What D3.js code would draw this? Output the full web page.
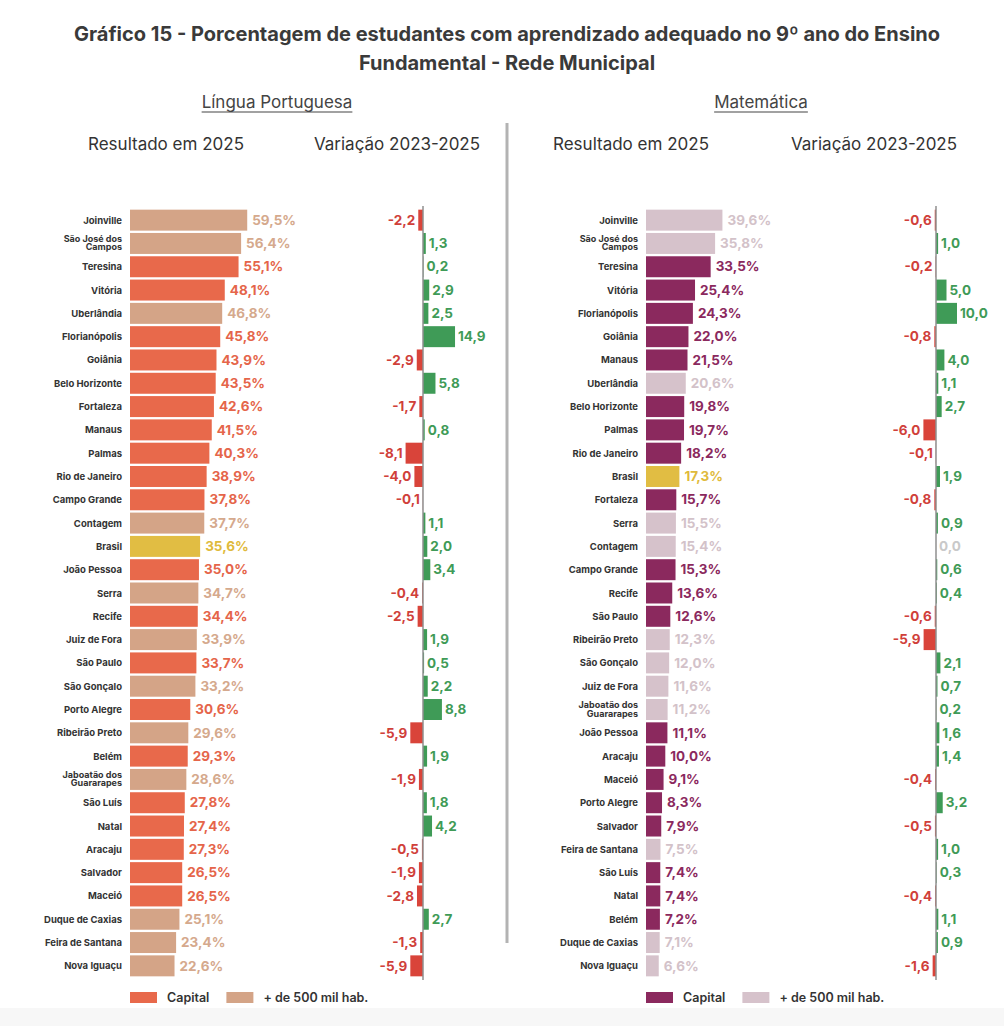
<!DOCTYPE html>
<html>
<head>
<meta charset="utf-8">
<script src="https://cdn.jsdelivr.net/npm/d3@7"></script>
<style>
  html, body { margin: 0; padding: 0; background: #fff; }
  svg { display: block; font-family: Inter, "Noto Sans", sans-serif; }
</style>
</head>
<body>
<svg id="chart" width="1004" height="1026"></svg>
<script>
// Língua Portuguesa
const lpCities = ["Joinville", "São José dos|Campos", "Teresina", "Vitória", "Uberlândia", "Florianópolis", "Goiânia",
  "Belo Horizonte", "Fortaleza", "Manaus", "Palmas", "Rio de Janeiro", "Campo Grande", "Contagem", "Brasil",
  "João Pessoa", "Serra", "Recife", "Juiz de Fora", "São Paulo", "São Gonçalo", "Porto Alegre", "Ribeirão Preto",
  "Belém", "Jaboatão dos|Guararapes", "São Luís", "Natal", "Aracaju", "Salvador", "Maceió", "Duque de Caxias",
  "Feira de Santana", "Nova Iguaçu"];
const lpValues = [59.5, 56.4, 55.1, 48.1, 46.8, 45.8, 43.9, 43.5, 42.6, 41.5, 40.3, 38.9, 37.8, 37.7, 35.6,
  35.0, 34.7, 34.4, 33.9, 33.7, 33.2, 30.6, 29.6, 29.3, 28.6, 27.8, 27.4, 27.3, 26.5, 26.5, 25.1, 23.4, 22.6];
const lpChange = [-2.2, 1.3, 0.2, 2.9, 2.5, 14.9, -2.9, 5.8, -1.7, 0.8, -8.1, -4.0, -0.1, 1.1, 2.0,
  3.4, -0.4, -2.5, 1.9, 0.5, 2.2, 8.8, -5.9, 1.9, -1.9, 1.8, 4.2, -0.5, -1.9, -2.8, 2.7, -1.3, -5.9];
// C = capital, M = + de 500 mil hab., B = Brasil
const lpGroup = ["M", "M", "C", "C", "M", "C", "C", "C", "C", "C", "C", "C", "C", "M", "B",
  "C", "M", "C", "M", "C", "M", "C", "M", "C", "M", "C", "C", "C", "C", "C", "M", "M", "M"];

// Matemática
const mtCities = ["Joinville", "São José dos|Campos", "Teresina", "Vitória", "Florianópolis", "Goiânia", "Manaus",
  "Uberlândia", "Belo Horizonte", "Palmas", "Rio de Janeiro", "Brasil", "Fortaleza", "Serra", "Contagem",
  "Campo Grande", "Recife", "São Paulo", "Ribeirão Preto", "São Gonçalo", "Juiz de Fora", "Jaboatão dos|Guararapes",
  "João Pessoa", "Aracaju", "Maceió", "Porto Alegre", "Salvador", "Feira de Santana", "São Luís", "Natal",
  "Belém", "Duque de Caxias", "Nova Iguaçu"];
const mtValues = [39.6, 35.8, 33.5, 25.4, 24.3, 22.0, 21.5, 20.6, 19.8, 19.7, 18.2, 17.3, 15.7, 15.5, 15.4,
  15.3, 13.6, 12.6, 12.3, 12.0, 11.6, 11.2, 11.1, 10.0, 9.1, 8.3, 7.9, 7.5, 7.4, 7.4, 7.2, 7.1, 6.6];
const mtChange = [-0.6, 1.0, -0.2, 5.0, 10.0, -0.8, 4.0, 1.1, 2.7, -6.0, -0.1, 1.9, -0.8, 0.9, 0.0,
  0.6, 0.4, -0.6, -5.9, 2.1, 0.7, 0.2, 1.6, 1.4, -0.4, 3.2, -0.5, 1.0, 0.3, -0.4, 1.1, 0.9, -1.6];
const mtGroup = ["M", "M", "C", "C", "C", "C", "C", "M", "C", "C", "C", "B", "C", "M", "M",
  "C", "C", "C", "M", "M", "M", "M", "C", "C", "C", "C", "C", "M", "C", "C", "C", "M", "M"];

const legendLabels = ["Capital", "+ de 500 mil hab."];

const fmt = v => v.toFixed(1).replace(".", ",");

const svg = d3.select("#chart");

// faint bottom band
svg.append("rect").attr("x", 0).attr("y", 1008).attr("width", 1004).attr("height", 18).attr("fill", "#f7f7f7");

// Title
const title = svg.append("text")
  .attr("x", 507).attr("text-anchor", "middle")
  .attr("fill", "#3a3a3a").style("font-size", "20px").style("font-weight", 700);
title.append("tspan").attr("x", 507).attr("y", 41)
  .text("Gráfico 15 - Porcentagem de estudantes com aprendizado adequado no 9º ano do Ensino");
title.append("tspan").attr("x", 507).attr("y", 70).text("Fundamental - Rede Municipal");

// separator
svg.append("line").attr("x1", 507).attr("x2", 507).attr("y1", 123).attr("y2", 943)
  .attr("stroke", "#b3b3b3").attr("stroke-width", 3);

function drawPanel(cfg) {
  const n = cfg.cities.length;
  const rows = d3.range(n);
  const g = svg.append("g");

  // Headers
  const subj = g.append("text").attr("x", cfg.subjX).attr("y", 108)
    .attr("text-anchor", "middle").attr("fill", "#444")
    .style("font-size", "17px").text(cfg.subject);
  const bb = subj.node().getBBox();
  g.append("line").attr("x1", bb.x).attr("x2", bb.x + bb.width)
    .attr("y1", 112).attr("y2", 112).attr("stroke", "#444").attr("stroke-width", 1.2);

  g.append("text").attr("x", cfg.head1X).attr("y", 150).attr("text-anchor", "middle")
    .attr("fill", "#333").style("font-size", "17px").text("Resultado em 2025");
  g.append("text").attr("x", cfg.head2X).attr("y", 150).attr("text-anchor", "middle")
    .attr("fill", "#333").style("font-size", "17px").text("Variação 2023-2025");

  const y = d3.scaleBand().domain(rows).range([208.5, 977.5])
    .paddingInner(0.1).paddingOuter(0.05);

  const x = d3.scaleLinear().domain([0, 60]).range([cfg.barX, cfg.barX + 60 * cfg.pxPer]);
  const xv = d3.scaleLinear().domain([-10, 10])
    .range([cfg.axisX - 10 * cfg.varPer, cfg.axisX + 10 * cfg.varPer]);

  const fill = i => cfg.colors[cfg.groups[i]];
  const labFill = i => cfg.labelColors[cfg.groups[i]];

  // city labels
  rows.forEach(i => {
    const parts = cfg.cities[i].split("|");
    const cy = y(i) + y.bandwidth() / 2;
    const t = g.append("text").attr("x", cfg.barX - 8).attr("text-anchor", "end")
      .attr("fill", "#333").style("font-size", "9.5px").style("font-weight", 700);
    if (parts.length === 1) {
      t.attr("y", cy + 3.5).text(parts[0]);
    } else {
      t.style("font-size", "9px");
      t.append("tspan").attr("x", cfg.barX - 8).attr("y", cy - 1.5).text(parts[0]);
      t.append("tspan").attr("x", cfg.barX - 8).attr("y", cy + 7).text(parts[1]);
    }
  });

  // result bars
  g.selectAll(".bar").data(rows).join("rect")
    .attr("x", x(0)).attr("y", i => y(i))
    .attr("width", i => x(cfg.values[i]) - x(0))
    .attr("height", y.bandwidth())
    .attr("fill", fill);

  g.selectAll(".val").data(rows).join("text")
    .attr("x", i => x(cfg.values[i]) + 5)
    .attr("y", i => y(i) + y.bandwidth() / 2 + 4.7)
    .attr("fill", labFill)
    .style("font-size", "13.5px").style("font-weight", 700)
    .text(i => fmt(cfg.values[i]) + "%");

  // variation bars
  g.selectAll(".vbar").data(rows).join("rect")
    .attr("x", i => Math.min(xv(0), xv(cfg.change[i])))
    .attr("y", i => y(i))
    .attr("width", i => Math.abs(xv(cfg.change[i]) - xv(0)))
    .attr("height", y.bandwidth())
    .attr("fill", i => cfg.change[i] < 0 ? "#d9443a" : "#3f9b57");

  g.append("line").attr("x1", cfg.axisX).attr("x2", cfg.axisX)
    .attr("y1", 206).attr("y2", 980).attr("stroke", "#8f8f8f").attr("stroke-width", 1.5);

  g.selectAll(".vval").data(rows).join("text")
    .attr("x", i => cfg.change[i] < 0 ? xv(cfg.change[i]) - 3 : xv(Math.max(cfg.change[i], 0)) + 3)
    .attr("text-anchor", i => cfg.change[i] < 0 ? "end" : "start")
    .attr("y", i => y(i) + y.bandwidth() / 2 + 4.7)
    .attr("fill", i => cfg.change[i] < 0 ? "#d0403a" : (cfg.change[i] > 0 ? "#3f9b57" : "#c9c9c9"))
    .style("font-size", "13.5px").style("font-weight", 700)
    .text(i => fmt(cfg.change[i]));

  // legend
  const lg = g.append("g").attr("transform", `translate(${cfg.barX},992)`);
  let lx = 0;
  legendLabels.forEach((lab, k) => {
    lg.append("rect").attr("x", lx).attr("y", 0).attr("width", 27).attr("height", 11)
      .attr("fill", cfg.colors[k === 0 ? "C" : "M"]);
    const t = lg.append("text").attr("x", lx + 37).attr("y", 10)
      .attr("fill", "#333").style("font-size", "12.5px").style("font-weight", 600).text(lab);
    lx += 37 + t.node().getComputedTextLength() + 17;
  });
}

drawPanel({
  subject: "Língua Portuguesa", subjX: 277, head1X: 166, head2X: 397,
  cities: lpCities, values: lpValues, change: lpChange, groups: lpGroup,
  barX: 130, pxPer: 1.97, axisX: 423, varPer: 2.15,
  colors: { C: "#e8694b", M: "#d4a487", B: "#e1bd43" },
  labelColors: { C: "#e5654a", M: "#d5a98d", B: "#dfba3c" }
});

drawPanel({
  subject: "Matemática", subjX: 761, head1X: 631, head2X: 874,
  cities: mtCities, values: mtValues, change: mtChange, groups: mtGroup,
  barX: 646, pxPer: 1.93, axisX: 936, varPer: 2.1,
  colors: { C: "#8b295e", M: "#d6c2cb", B: "#e1bd43" },
  labelColors: { C: "#8b295e", M: "#d3c2c9", B: "#dfba3c" }
});
</script>
</body>
</html>
